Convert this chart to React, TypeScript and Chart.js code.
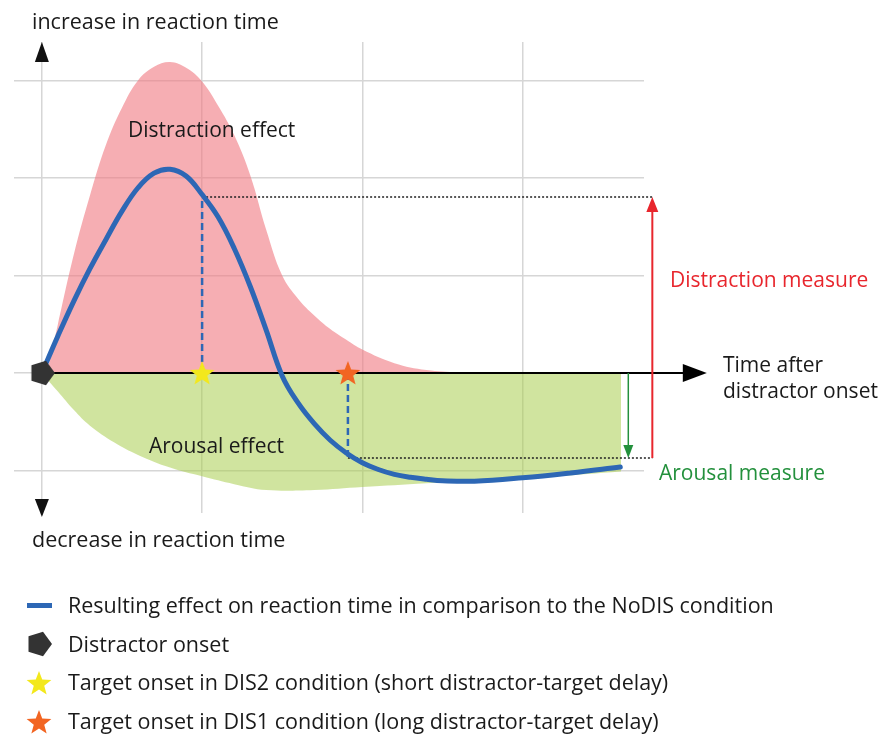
import React, { useEffect, useRef } from "react";
import { Chart, registerables } from "chart.js";

Chart.register(...registerables);

// ---- data (time after distractor onset vs. change in reaction time) ----
const distractionX = [0.031, 0.1, 0.2, 0.3, 0.4, 0.5, 0.6, 0.7, 0.8, 0.9, 1.0, 1.1, 1.2, 1.3, 1.4, 1.5, 1.6, 1.7, 1.8, 1.9, 2.0, 2.2, 2.4, 2.6, 2.68];
const distractionY = [0, 0.5, 1.22, 1.82, 2.34, 2.72, 3.0, 3.14, 3.19, 3.13, 2.99, 2.74, 2.44, 2.03, 1.47, 1.0, 0.76, 0.59, 0.45, 0.34, 0.24, 0.1, 0.03, 0.005, 0];

const arousalX = [0, 0.1, 0.2, 0.3, 0.45, 0.6, 0.8, 1.0, 1.2, 1.4, 1.7, 2.0, 2.4, 2.8, 3.2, 3.615];
const arousalY = [0, -0.19, -0.38, -0.54, -0.71, -0.84, -0.97, -1.06, -1.14, -1.2, -1.2, -1.17, -1.13, -1.1, -1.06, -1.01];

const resultX = [0, 0.1, 0.2, 0.3, 0.4, 0.5, 0.6, 0.7, 0.8, 0.9, 1.0, 1.1, 1.2, 1.3, 1.4, 1.5, 1.6, 1.7, 1.8, 1.9, 2.0, 2.1, 2.2, 2.3, 2.4, 2.5, 2.7, 3.0, 3.3, 3.61];
const resultY = [0, 0.38, 0.74, 1.07, 1.37, 1.66, 1.9, 2.05, 2.09, 2.02, 1.83, 1.6, 1.28, 0.89, 0.44, -0.03, -0.31, -0.52, -0.69, -0.82, -0.92, -0.99, -1.04, -1.07, -1.09, -1.105, -1.11, -1.075, -1.025, -0.964];

const distractorOnset = 0;
const dis2Onset = 1.0;
const dis1Onset = 1.91;
const distractionLevel = 1.805;
const arousalLevel = -0.872;
const measureX = 3.81;
const arousalArrowX = 3.66;
const axisEndX = 4.15;

const xGrid = [0, 1, 2, 3];
const yGrid = [-1, 0, 1, 2, 3];

const legendLabels = [
  "Resulting effect on reaction time in comparison to the NoDIS condition",
  "Distractor onset",
  "Target onset in DIS2 condition (short distractor-target delay)",
  "Target onset in DIS1 condition (long distractor-target delay)",
];

const BLUE = "#2d67b5";
const PINK = "rgba(240,120,128,0.6)";
const GREEN = "rgba(170,205,80,0.55)";
const YELLOW = "#f3e81c";
const ORANGE = "#f26522";
const DARK = "#333333";
const RED = "#e8262d";
const DGREEN = "#23903c";
const FONT = "'Open Sans', Lato, sans-serif";

function starPath(ctx: CanvasRenderingContext2D, cx: number, cy: number, R: number, r: number) {
  ctx.beginPath();
  for (let i = 0; i < 10; i++) {
    const a = -Math.PI / 2 + (i * Math.PI) / 5;
    const rad = i % 2 ? r : R;
    const px = cx + rad * Math.cos(a);
    const py = cy + rad * Math.sin(a);
    if (i === 0) ctx.moveTo(px, py);
    else ctx.lineTo(px, py);
  }
  ctx.closePath();
}

function pentagonPath(ctx: CanvasRenderingContext2D, cx: number, cy: number, R: number) {
  ctx.beginPath();
  for (let i = 0; i < 5; i++) {
    const a = (i * 2 * Math.PI) / 5;
    const px = cx + R * Math.cos(a);
    const py = cy + R * Math.sin(a);
    if (i === 0) ctx.moveTo(px, py);
    else ctx.lineTo(px, py);
  }
  ctx.closePath();
}

function makeStar(color: string) {
  const c = document.createElement("canvas");
  c.width = 28;
  c.height = 28;
  const ctx = c.getContext("2d")!;
  starPath(ctx, 14, 15, 13, 5.5);
  ctx.fillStyle = color;
  ctx.fill();
  return c;
}

function makePentagon() {
  const c = document.createElement("canvas");
  c.width = 28;
  c.height = 28;
  const ctx = c.getContext("2d")!;
  pentagonPath(ctx, 14, 14, 13);
  ctx.fillStyle = DARK;
  ctx.fill();
  return c;
}

function arrowHead(ctx: CanvasRenderingContext2D, tipX: number, tipY: number, dir: "up" | "down" | "right", len: number, half: number, color: string) {
  ctx.beginPath();
  if (dir === "up") {
    ctx.moveTo(tipX, tipY);
    ctx.lineTo(tipX - half, tipY + len);
    ctx.lineTo(tipX + half, tipY + len);
  } else if (dir === "down") {
    ctx.moveTo(tipX, tipY);
    ctx.lineTo(tipX - half, tipY - len);
    ctx.lineTo(tipX + half, tipY - len);
  } else {
    ctx.moveTo(tipX, tipY);
    ctx.lineTo(tipX - len, tipY - half);
    ctx.lineTo(tipX - len, tipY + half);
  }
  ctx.closePath();
  ctx.fillStyle = color;
  ctx.fill();
}

export default function App() {
  const ref = useRef<HTMLCanvasElement | null>(null);

  useEffect(() => {
    document.body.style.margin = "0";
    const canvas = ref.current!;
    const pent = makePentagon();
    const yStar = makeStar(YELLOW);
    const oStar = makeStar(ORANGE);

    const annotations = {
      id: "annotations",
      beforeDatasetDraw(chart: any, args: any) {
        if (args.index !== 1) return;
        const ctx = chart.ctx as CanvasRenderingContext2D;
        const xs = chart.scales.x;
        const ys = chart.scales.y;
        const X = (v: number) => xs.getPixelForValue(v);
        const Y = (v: number) => ys.getPixelForValue(v);
        ctx.save();
        // x axis
        ctx.strokeStyle = "#000";
        ctx.lineWidth = 2;
        ctx.beginPath();
        ctx.moveTo(X(0), Y(0));
        ctx.lineTo(X(axisEndX) - 20, Y(0));
        ctx.stroke();
        arrowHead(ctx, X(axisEndX), Y(0), "right", 24, 9, "#000");
        // dotted level lines
        ctx.strokeStyle = "#222";
        ctx.lineWidth = 1.5;
        ctx.setLineDash([2, 2]);
        ctx.beginPath();
        ctx.moveTo(X(dis2Onset), Y(distractionLevel));
        ctx.lineTo(X(measureX), Y(distractionLevel));
        ctx.moveTo(X(dis1Onset), Y(arousalLevel));
        ctx.lineTo(X(measureX), Y(arousalLevel));
        ctx.stroke();
        // blue dashed drops
        ctx.strokeStyle = BLUE;
        ctx.lineWidth = 2.5;
        ctx.setLineDash([7, 4]);
        ctx.beginPath();
        ctx.moveTo(X(dis2Onset), Y(0));
        ctx.lineTo(X(dis2Onset), Y(distractionLevel));
        ctx.moveTo(X(dis1Onset), Y(0));
        ctx.lineTo(X(dis1Onset), Y(arousalLevel));
        ctx.stroke();
        ctx.setLineDash([]);
        // measure arrows
        ctx.strokeStyle = RED;
        ctx.lineWidth = 2;
        ctx.beginPath();
        ctx.moveTo(X(measureX), Y(arousalLevel));
        ctx.lineTo(X(measureX), Y(distractionLevel) + 12);
        ctx.stroke();
        arrowHead(ctx, X(measureX), Y(distractionLevel), "up", 15, 6, RED);
        ctx.strokeStyle = DGREEN;
        ctx.lineWidth = 1.5;
        ctx.beginPath();
        ctx.moveTo(X(arousalArrowX), Y(0));
        ctx.lineTo(X(arousalArrowX), Y(arousalLevel) - 10);
        ctx.stroke();
        arrowHead(ctx, X(arousalArrowX), Y(arousalLevel), "down", 13, 5, DGREEN);
        ctx.restore();
      },
      afterDraw(chart: any) {
        const ctx = chart.ctx as CanvasRenderingContext2D;
        const xs = chart.scales.x;
        const ca = chart.chartArea;
        const x0 = xs.getPixelForValue(0);
        ctx.save();
        arrowHead(ctx, x0, ca.top, "up", 20, 7, "#111");
        arrowHead(ctx, x0, ca.bottom + 4, "down", 18, 7, "#111");
        ctx.textAlign = "left";
        ctx.textBaseline = "alphabetic";
        ctx.fillStyle = "#1a1a1a";
        ctx.font = `21.5px ${FONT}`;
        ctx.fillText("increase in reaction time", 32, 29);
        ctx.fillText("decrease in reaction time", 32, 547);
        ctx.font = `21px ${FONT}`;
        ctx.fillText("Distraction effect", 128, 137);
        ctx.fillText("Arousal effect", 149, 453);
        ctx.fillText("Time after", 723, 372);
        ctx.fillText("distractor onset", 723, 398);
        ctx.fillStyle = RED;
        ctx.fillText("Distraction measure", 670, 287);
        ctx.fillStyle = DGREEN;
        ctx.fillText("Arousal measure", 659, 480);
        // legend
        const rows = [613, 652, 690, 729];
        ctx.fillStyle = BLUE;
        ctx.fillRect(27, 603, 25, 5);
        pentagonPath(ctx, 39, 644, 13);
        ctx.fillStyle = DARK;
        ctx.fill();
        starPath(ctx, 39, 684, 13, 5.5);
        ctx.fillStyle = YELLOW;
        ctx.fill();
        starPath(ctx, 39, 723, 13, 5.5);
        ctx.fillStyle = ORANGE;
        ctx.fill();
        ctx.fillStyle = "#1a1a1a";
        ctx.font = `21.5px ${FONT}`;
        legendLabels.forEach((t, i) => ctx.fillText(t, 68, rows[i]));
        ctx.restore();
      },
    };

    const toPts = (xs: number[], ys: number[]) => xs.map((x, i) => ({ x, y: ys[i] }));

    const chart = new Chart(canvas, {
      type: "line",
      data: {
        datasets: [
          {
            label: "markers",
            type: "scatter",
            data: [
              { x: distractorOnset, y: 0 },
              { x: dis2Onset, y: 0 },
              { x: dis1Onset, y: 0 },
            ],
            pointStyle: [pent, yStar, oStar] as any,
            pointRadius: 13,
            clip: false as any,
            order: 0,
          } as any,
          {
            label: "result",
            data: toPts(resultX, resultY),
            borderColor: BLUE,
            borderWidth: 5,
            pointRadius: 0,
            fill: false,
            tension: 0.4,
            borderCapStyle: "round",
            order: 1,
          },
          {
            label: "arousal",
            data: toPts(arousalX, arousalY),
            borderWidth: 0,
            pointRadius: 0,
            backgroundColor: GREEN,
            fill: "origin",
            tension: 0.4,
            order: 2,
          },
          {
            label: "distraction",
            data: toPts(distractionX, distractionY),
            borderWidth: 0,
            pointRadius: 0,
            backgroundColor: PINK,
            fill: "origin",
            tension: 0.4,
            order: 3,
          },
        ],
      },
      options: {
        animation: false,
        responsive: false,
        layout: { padding: { left: 11, top: 42, right: 238, bottom: 222 } },
        plugins: { legend: { display: false }, tooltip: { enabled: false } },
        scales: {
          x: {
            type: "linear",
            min: -0.174,
            max: 3.758,
            ticks: { display: false },
            grid: { color: "#d6d6d6", lineWidth: 1.5, drawTicks: false },
            border: { display: false },
            afterBuildTicks: (s: any) => {
              s.ticks = xGrid.map((v) => ({ value: v }));
            },
            afterFit: (s: any) => {
              s.height = 0;
            },
          },
          y: {
            type: "linear",
            min: -1.436,
            max: 3.395,
            ticks: { display: false },
            grid: { color: "#d6d6d6", lineWidth: 1.5, drawTicks: false },
            border: { display: false },
            afterBuildTicks: (s: any) => {
              s.ticks = yGrid.map((v) => ({ value: v }));
            },
            afterFit: (s: any) => {
              s.width = 0;
            },
          },
        },
      },
      plugins: [annotations],
    });
    return () => chart.destroy();
  }, []);

  return <canvas ref={ref} width={882} height={735} style={{ display: "block" }} />;
}
